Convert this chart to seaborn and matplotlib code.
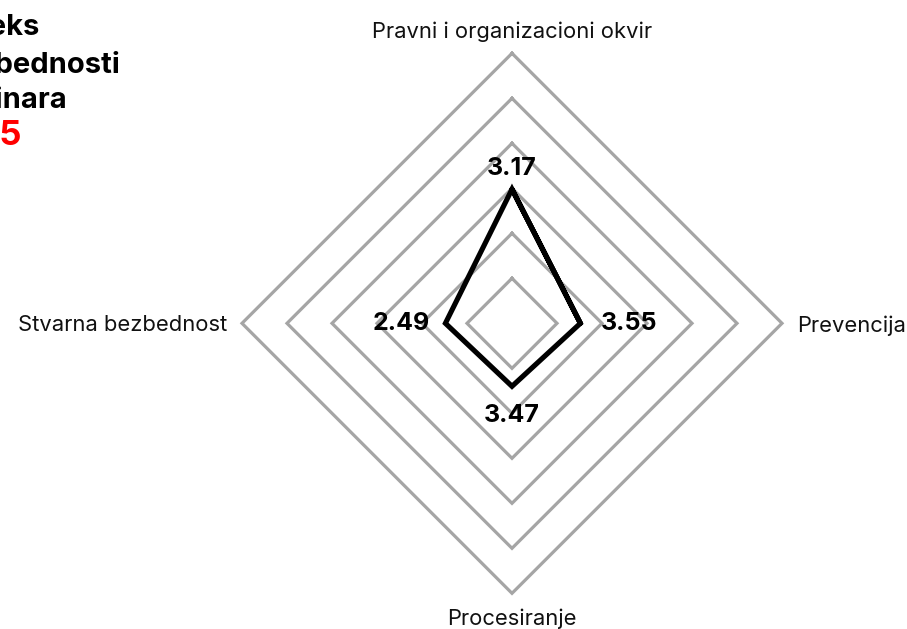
import numpy as np
import pandas as pd
import matplotlib
matplotlib.use("Agg")
import matplotlib.pyplot as plt
import seaborn as sns

# ---- data ----
categories = ["Pravni i organizacioni okvir", "Prevencija", "Procesiranje", "Stvarna bezbednost"]
score_labels = ["3.17", "3.55", "3.47", "2.49"]
plotted_radius = [2.98, 1.52, 1.40, 1.48]
ring_levels = [1, 2, 3, 4, 5, 6]
title_lines = ["Indeks", "bezbednosti", "novinara"]
title_year = "2025"

sns.set_theme(style="white")
plt.rcParams["font.family"] = ["Inter", "DejaVu Sans"]

W, H = 907, 629
fig = plt.figure(figsize=(W / 100, H / 100), dpi=100)
ax = fig.add_axes([0, 0, 1, 1])
scale = 45.0
cx, cy = 512.0, 323.3
ax.set_xlim(-cx / scale, (W - cx) / scale)
ax.set_ylim(-(H - cy) / scale, cy / scale)
ax.axis("off")

n = len(categories)
theta = np.pi / 2 - np.arange(n) * 2 * np.pi / n

# rings
rows = []
for lvl in ring_levels:
    for j, k in enumerate(list(range(n)) + [0]):
        rows.append(dict(level=lvl, order=j, x=lvl * np.cos(theta[k]), y=lvl * np.sin(theta[k])))
ring_df = pd.DataFrame(rows)
sns.lineplot(data=ring_df, x="x", y="y", units="level", estimator=None, sort=False,
             color="#a5a5a5", lw=2.3, solid_joinstyle="miter", solid_capstyle="projecting",
             ax=ax, legend=False)

# data polygon (go around once plus one extra segment so every corner is mitered)
idx = list(range(n)) + [0, 1]
data_df = pd.DataFrame(dict(order=range(len(idx)),
                            x=[plotted_radius[k] * np.cos(theta[k]) for k in idx],
                            y=[plotted_radius[k] * np.sin(theta[k]) for k in idx]))
sns.lineplot(data=data_df, x="x", y="y", sort=False, estimator=None, color="black",
             lw=3.7, solid_joinstyle="miter", ax=ax, legend=False)
ax.set_xlabel("")
ax.set_ylabel("")

# category labels
label_r = 6.33
cat_align = [("center", "baseline"), ("left", "center_baseline"),
             ("center", "top"), ("right", "center_baseline")]
for k in range(n):
    ha, va = cat_align[k]
    ax.text(label_r * np.cos(theta[k]), label_r * np.sin(theta[k]), categories[k],
            ha=ha, va=va, fontsize=15.8, color="#111111")

# value labels
val_offsets = [((0, 10), "center", "baseline"), ((15, 0), "left", "center"),
               ((0, -13), "center", "top"), ((-11, 0), "right", "center")]
for k in range(n):
    (dx, dy), ha, va = val_offsets[k]
    ax.annotate(score_labels[k],
                (plotted_radius[k] * np.cos(theta[k]), plotted_radius[k] * np.sin(theta[k])),
                xytext=(dx, dy), textcoords="offset points", ha=ha, va=va,
                fontsize=18, fontweight="bold", color="black")

# title (cropped at the left edge)
title_right = [40, 120, 67]
title_base = [35, 73, 108.3]
for txt, xr, yb in zip(title_lines, title_right, title_base):
    fig.text(xr / W, 1 - yb / H, txt, ha="right", va="baseline",
             fontsize=21, fontweight="bold", color="black")
fig.text(22 / W, 1 - 145 / H, title_year, ha="right", va="baseline",
         fontsize=25, fontweight="bold", color="#ff0000")

fig.savefig("out.png", dpi=100)
